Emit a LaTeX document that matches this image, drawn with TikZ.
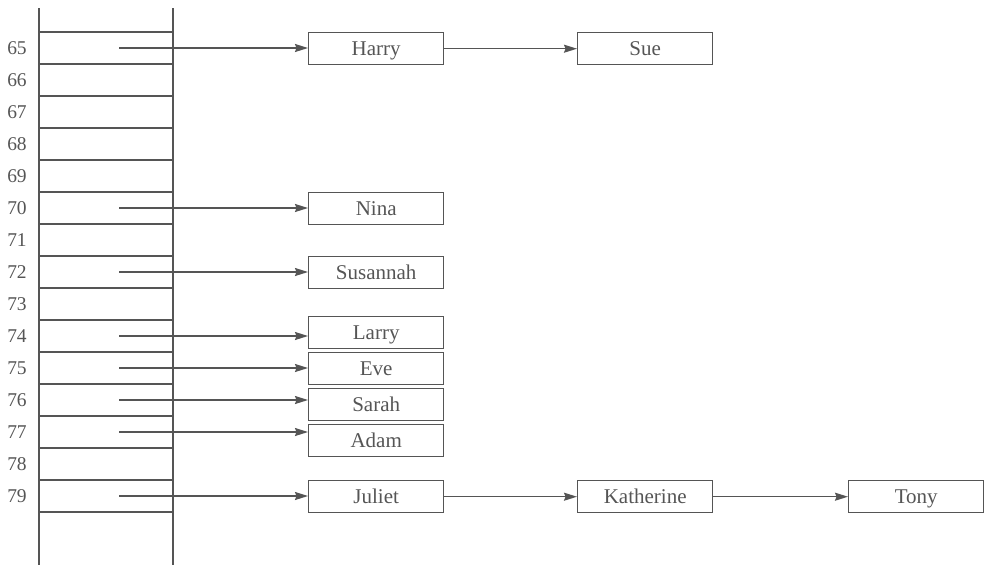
\documentclass[tikz,border=0pt]{standalone}
\usepackage{fontspec}
\setmainfont{Liberation Serif}
\usetikzlibrary{arrows.meta}
\definecolor{ink}{HTML}{555555}
\tikzset{
  ln/.style={draw=ink, line width=1.4pt},
  arr/.style={ln, -{Stealth[length=13pt,width=8pt,inset=1.5pt]}},
  rec/.style={draw=ink, line width=1.4pt, minimum width=135pt, minimum height=32pt, inner sep=0pt, text height=16pt, text depth=2pt, text=ink, font=\fontsize{21}{21}\selectfont, anchor=north west},
  num/.style={text=ink, font=\fontsize{19.5}{19.5}\selectfont, inner sep=0pt}
}
\begin{document}
\begin{tikzpicture}[x=1pt,y=-1pt]
\useasboundingbox (0,0) rectangle (989,566);
% table
\draw[ln] (39,8) -- (39,565);
\draw[ln] (173,8) -- (173,565);
\foreach \i in {0,...,15} {
  \draw[ln] (39,32+32*\i) -- (173,32+32*\i);
}
\foreach \n [count=\i from 0] in {65,...,79} {
  \node[num] (l\n) at (17,48+32*\i) {\n};
  \coordinate (s\n) at (119,48+32*\i);
}
% boxes
\node[rec] (harry) at (308,32) {Harry};
\node[rec] (sue) at (577,32) {Sue};
\node[rec] (nina) at (308,192) {Nina};
\node[rec] (susannah) at (308,256) {Susannah};
\node[rec] (larry) at (308,316) {Larry};
\node[rec] (eve) at (308,352) {Eve};
\node[rec] (sarah) at (308,388) {Sarah};
\node[rec] (adam) at (308,424) {Adam};
\node[rec] (juliet) at (308,480) {Juliet};
\node[rec] (katherine) at (577,480) {Katherine};
\node[rec] (tony) at (848,480) {Tony};
% arrows
\draw[arr] (s65) -- (s65 -| harry.west);
\draw[arr] (s70) -- (s70 -| nina.west);
\draw[arr] (s72) -- (s72 -| susannah.west);
\draw[arr] (s74) -- (s74 -| larry.west);
\draw[arr] (s75) -- (s75 -| eve.west);
\draw[arr] (s76) -- (s76 -| sarah.west);
\draw[arr] (s77) -- (s77 -| adam.west);
\draw[arr] (s79) -- (s79 -| juliet.west);
\draw[arr] (harry) -- (sue);
\draw[arr] (juliet) -- (katherine);
\draw[arr] (katherine) -- (tony);
\end{tikzpicture}
\end{document}
